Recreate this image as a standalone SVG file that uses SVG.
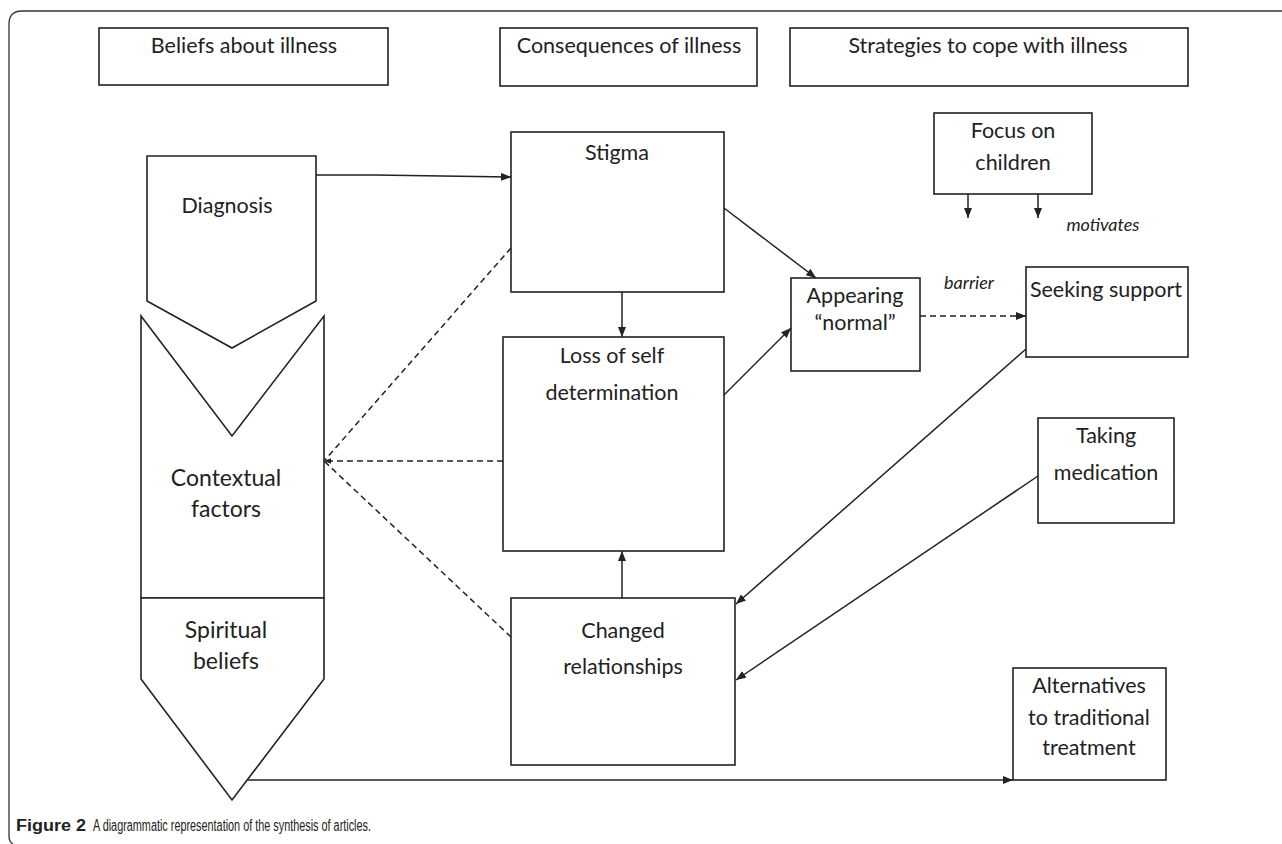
<svg xmlns="http://www.w3.org/2000/svg" width="1282" height="844" viewBox="0 0 1282 844">
<defs>
<style>
.box{fill:#fff;stroke:#222;stroke-width:1.6}
.t{font-family:Lato,"Open Sans","Liberation Sans",sans-serif;font-size:21.5px;fill:#222;text-anchor:middle}
.tl{font-size:23px}
.it{font-family:Lato,"Open Sans","Liberation Sans",sans-serif;font-size:18px;font-style:italic;fill:#222;text-anchor:middle}
.c{fill:none;stroke:#222;stroke-width:1.5}
.d{fill:none;stroke:#222;stroke-width:1.5;stroke-dasharray:6 4}
.cap{font-family:"Liberation Sans",Arial,sans-serif;font-size:16px;fill:#222}
</style>
<marker id="ah" viewBox="0 0 10 8" refX="10" refY="4" markerWidth="10" markerHeight="8" markerUnits="userSpaceOnUse" orient="auto">
<path d="M0,0 L10,4 L0,8 Z" fill="#222"/>
</marker>
<marker id="ahs" viewBox="0 0 10 8" refX="10" refY="4" markerWidth="7" markerHeight="6" markerUnits="userSpaceOnUse" orient="auto">
<path d="M0,0 L10,4 L0,8 Z" fill="#222"/>
</marker>
</defs>
<rect width="1282" height="844" fill="#fff"/>
<path d="M1282,11 L22,11 Q9,11 9,24 L9,836 Q9,842 13,844" fill="none" stroke="#333" stroke-width="1.3"/>

<g id="h1"><rect class="box" x="99" y="28" width="289" height="57"/><text class="t" x="244" y="53">Beliefs about illness</text></g>
<g id="h2"><rect class="box" x="500" y="28" width="257" height="58"/><text class="t" x="629" y="53">Consequences of illness</text></g>
<g id="h3"><rect class="box" x="790" y="28" width="398" height="58"/><text class="t" x="988" y="53">Strategies to cope with illness</text></g>

<g id="diagnosis"><polygon class="box" points="147,156 316,156 316,301 232,348 147,301"/><text class="t" x="227" y="213">Diagnosis</text></g>
<g id="contextual"><polygon class="box" points="141,316 232,436 324,316 324,598 141,598"/><text class="t tl" x="226" y="486">Contextual</text><text class="t tl" x="226" y="517">factors</text></g>
<g id="spiritual"><polygon class="box" points="141,598 324,598 324,679 232,800 141,679"/><text class="t tl" x="226" y="638">Spiritual</text><text class="t tl" x="226" y="669">beliefs</text></g>

<g id="stigma"><rect class="box" x="511" y="132" width="213" height="160"/><text class="t" x="617" y="160">Stigma</text></g>
<g id="loss"><rect class="box" x="503" y="337" width="221" height="214"/><text class="t" x="612" y="363">Loss of self</text><text class="t" x="612" y="400">determination</text></g>
<g id="changed"><rect class="box" x="511" y="598" width="224" height="167"/><text class="t" x="623" y="638">Changed</text><text class="t" x="623" y="674">relationships</text></g>
<g id="appearing"><rect class="box" x="791" y="278" width="129" height="93"/><text class="t" x="855" y="303">Appearing</text><text class="t" x="855" y="330">“normal”</text></g>
<g id="seeking"><rect class="box" x="1026" y="267" width="162" height="90"/><text class="t" x="1106" y="297">Seeking support</text></g>
<g id="focus"><rect class="box" x="934" y="113" width="158" height="81"/><text class="t" x="1013" y="138">Focus on</text><text class="t" x="1013" y="170">children</text></g>
<g id="taking"><rect class="box" x="1038" y="418" width="136" height="105"/><text class="t" x="1106" y="443">Taking</text><text class="t" x="1106" y="480">medication</text></g>
<g id="alternatives"><rect class="box" x="1013" y="668" width="153" height="112"/><text class="t" x="1089" y="693">Alternatives</text><text class="t" x="1089" y="725">to traditional</text><text class="t" x="1089" y="755">treatment</text></g>

<g id="connectors">
<path class="c" d="M316,175 L375,175 L511,177" marker-end="url(#ah)"/>
<line class="c" x1="622" y1="292" x2="622" y2="337" marker-end="url(#ah)"/>
<line class="c" x1="622" y1="598" x2="622" y2="551" marker-end="url(#ah)"/>
<line class="c" x1="724" y1="208" x2="816" y2="278" marker-end="url(#ah)"/>
<line class="c" x1="724" y1="395" x2="791" y2="328" marker-end="url(#ah)"/>
<line class="d" x1="920" y1="316" x2="1026" y2="316" marker-end="url(#ah)"/>
<line class="c" x1="968" y1="194" x2="968" y2="218" marker-end="url(#ah)"/>
<line class="c" x1="1038" y1="194" x2="1038" y2="218" marker-end="url(#ah)"/>
<line class="c" x1="1026" y1="349" x2="736" y2="604" marker-end="url(#ah)"/>
<line class="c" x1="1038" y1="476" x2="736" y2="680" marker-end="url(#ah)"/>
<line class="c" x1="248" y1="780" x2="1013" y2="780" marker-end="url(#ah)"/>
<line class="d" x1="511" y1="248" x2="324" y2="461"/>
<line class="d" x1="503" y1="461" x2="324" y2="461" marker-end="url(#ahs)"/>
<line class="d" x1="511" y1="637" x2="324" y2="461"/>
<text class="it" x="969" y="289">barrier</text>
<text class="it" x="1103" y="231">motivates</text>
</g>

<text class="cap" x="16" y="831" font-weight="bold" textLength="70" lengthAdjust="spacingAndGlyphs">Figure 2</text>
<text class="cap" x="93" y="831" textLength="278" lengthAdjust="spacingAndGlyphs">A diagrammatic representation of the synthesis of articles.</text>
</svg>
